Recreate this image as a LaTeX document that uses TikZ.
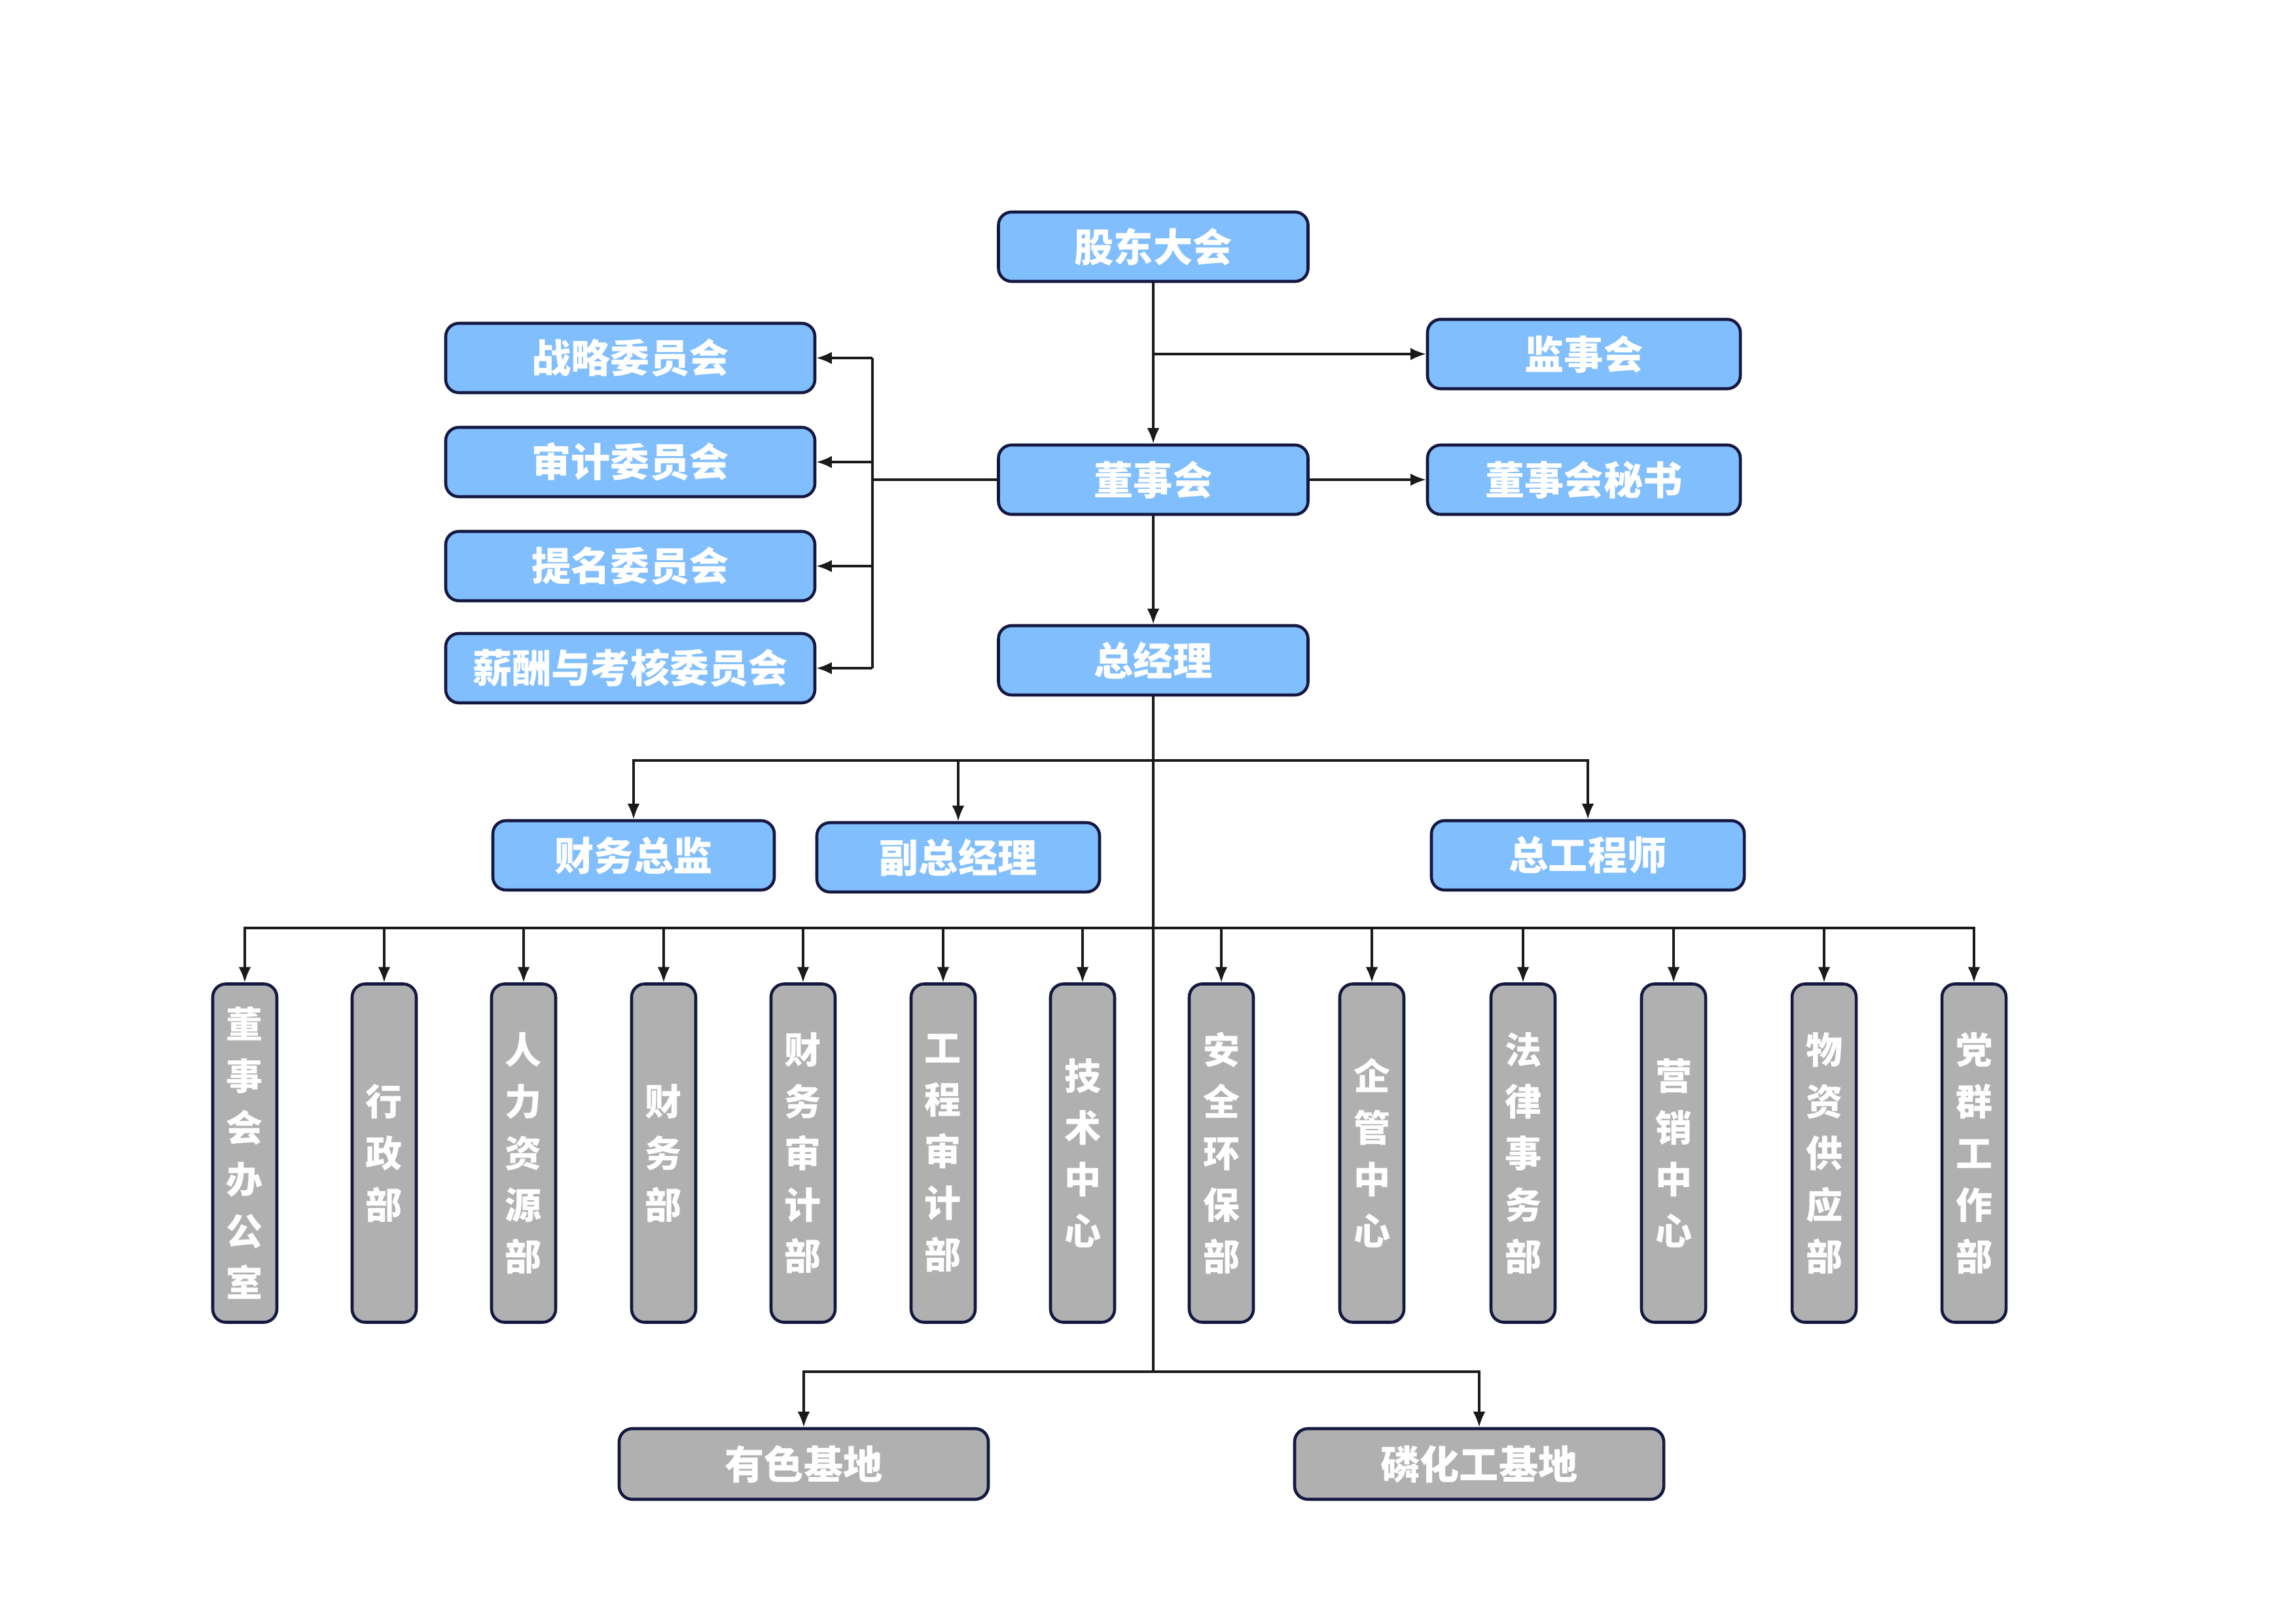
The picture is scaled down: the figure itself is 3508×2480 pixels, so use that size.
\documentclass[tikz,border=0pt]{standalone}
\usepackage{fontspec}
\setmainfont{Noto Sans CJK SC}
\usetikzlibrary{arrows.meta}
\newdimen\px \px=0.0846637mm
\definecolor{boxblue}{RGB}{128,190,253}
\definecolor{boxgray}{RGB}{176,176,176}
\definecolor{boxline}{RGB}{20,24,64}
\definecolor{linecol}{RGB}{26,26,26}
\begin{document}
\begin{tikzpicture}[x=\px, y=-\px,
  box/.style={draw=boxline, line width=1.1pt, rounded corners=1.7mm, text=white,
    font=\bfseries\fontsize{14.5}{17}\selectfont, inner sep=0pt},
  bluebox/.style={box, fill=boxblue, minimum height=106\px},
  graybox/.style={box, fill=boxgray, minimum height=108\px, minimum width=564\px},
  deptbox/.style={box, fill=boxgray, minimum width=98\px, minimum height=517\px,
    align=center, font=\bfseries\fontsize{13.5}{19}\selectfont},
  conn/.style={line width=0.75pt, draw=linecol},
  arr/.style={conn, -{Latex[length=2mm, width=1.6mm]}}
]
\fill[white] (0,0) rectangle (3508,2480);
\useasboundingbox (0,0) rectangle (3508,2480);

% top level
\node[bluebox, minimum width=473\px] (gd)  at (1762,377) {股东大会};
\node[bluebox, minimum width=478\px] (jsh) at (2420,541) {监事会};
\node[bluebox, minimum width=473\px] (dsh) at (1762,733) {董事会};
\node[bluebox, minimum width=478\px] (msh) at (2420,733) {董事会秘书};

% committees
\node[bluebox, minimum width=564\px] (zl) at (963,547)  {战略委员会};
\node[bluebox, minimum width=564\px] (sj) at (963,706)  {审计委员会};
\node[bluebox, minimum width=564\px] (tm) at (963,865)  {提名委员会};
\node[bluebox, minimum width=564\px] (xc) at (963,1021) {薪酬与考核委员会};

% management
\node[bluebox, minimum width=473\px] (zjl) at (1762,1009) {总经理};
\node[bluebox, minimum width=430\px] (cw)  at (968,1307)  {财务总监};
\node[bluebox, minimum width=432\px] (fz)  at (1464,1310) {副总经理};
\node[bluebox, minimum width=478\px] (zg)  at (2426,1307) {总工程师};

% departments
\foreach \n/\x/\t in {
  d1/374/{董\\事\\会\\办\\公\\室},
  d2/587/{行\\政\\部},
  d3/800/{人\\力\\资\\源\\部},
  d4/1014/{财\\务\\部},
  d5/1227/{财\\务\\审\\计\\部},
  d6/1441/{工\\程\\审\\计\\部},
  d7/1654/{技\\术\\中\\心},
  d8/1866/{安\\全\\环\\保\\部},
  d9/2096/{企\\管\\中\\心},
  d10/2327/{法\\律\\事\\务\\部},
  d11/2557/{营\\销\\中\\心},
  d12/2787/{物\\资\\供\\应\\部},
  d13/3016/{党\\群\\工\\作\\部}}
{\node[deptbox] (\n) at (\x,1762) {\t};}

% bases
\node[graybox] (yj) at (1228,2237) {有色基地};
\node[graybox] (lh) at (2260,2237) {磷化工基地};

% connectors: top
\draw[arr] (gd.south) -- (dsh.north);
\coordinate (j1) at (gd.south |- jsh.west);
\draw[arr] (j1) -- (jsh.west);
\draw[arr] (dsh.east) -- (msh.west);

% committees
\coordinate (ct) at (1333,733);
\draw[conn] (dsh.west) -- (ct);
\draw[conn] (ct |- zl.east) -- (ct |- xc.east);
\foreach \c in {zl,sj,tm,xc}{\draw[arr] (ct |- \c.east) -- (\c.east);}

% general manager
\draw[arr] (dsh.south) -- (zjl.north);
\coordinate (b1) at (1762,1162);
\coordinate (b2) at (1762,1418);
\coordinate (b3) at (1762,2096);
\draw[conn] (zjl.south) -- (b3);
\draw[arr] (b1) -| (cw.north);
\draw[arr] (b1) -| (zg.north);
\draw[arr] (b1 -| fz.north) -- (fz.north);

% departments
\foreach \n in {d1,d2,d3,d4,d5,d6,d7,d8,d9,d10,d11,d12,d13}
  {\draw[arr] (b2) -| (\n.north);}

% bases
\draw[arr] (b3) -| (yj.north);
\draw[arr] (b3) -| (lh.north);
\end{tikzpicture}
\end{document}
